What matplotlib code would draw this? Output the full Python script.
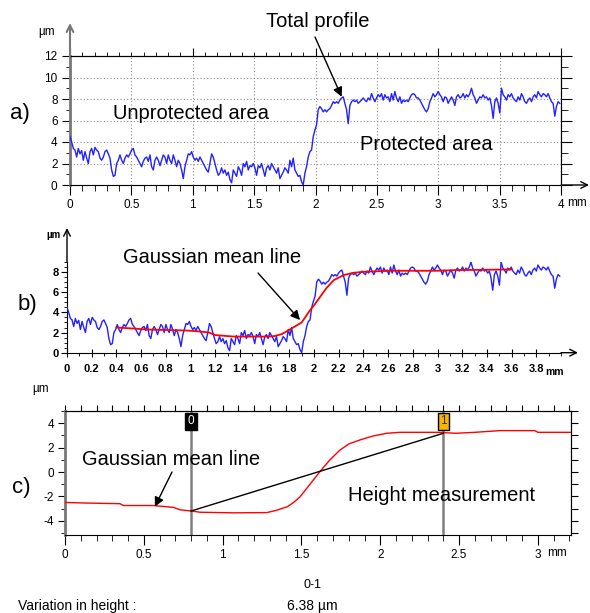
import numpy as np
import matplotlib
matplotlib.use('Agg')
import matplotlib.pyplot as plt
from matplotlib.ticker import MultipleLocator, NullFormatter

plt.rcParams['font.family'] = ['Liberation Sans', 'DejaVu Sans']
plt.rcParams['axes.unicode_minus'] = False

# ---------------- data ----------------
# total profile (µm), evenly spaced
profile_um = [
    4.5, 4.0, 3.4, 3.25, 2.6, 3.4, 2.9, 3.2, 2.3, 3.1, 2.5, 2.0, 3.1, 3.4, 2.8, 3.5, 3.25, 3.1, 2.5, 2.3,
    2.6, 3.1, 3.25, 2.9, 2.5, 1.4, 0.8, 0.9, 2.0, 2.3, 2.8, 2.3, 2.0, 2.5, 2.8, 2.6, 2.9, 3.25, 3.4, 2.8,
    2.6, 2.3, 2.0, 1.7, 2.2, 2.5, 2.6, 2.2, 2.8, 1.7, 1.4, 2.3, 2.6, 2.3, 1.8, 2.3, 2.8, 2.6, 2.0, 2.8,
    2.3, 2.0, 2.8, 2.3, 1.7, 2.3, 2.0, 1.4, 0.6, 1.7, 2.3, 2.9, 2.8, 3.1, 2.6, 2.3, 2.5, 2.2, 2.6, 2.3,
    2.0, 1.7, 1.4, 1.2, 2.0, 2.9, 2.6, 2.0, 1.4, 0.9, 1.1, 1.6, 1.1, 1.4, 0.9, 1.2, 0.5, 0.2, 1.4,
    1.1, 0.8, 1.7, 1.4, 0.9, 2.0, 1.7, 2.2, 1.4, 1.8, 1.7, 2.0, 1.6, 0.9, 1.8, 1.6, 2.0, 1.4, 0.8, 1.6,
    1.8, 1.4, 2.0, 1.7, 1.4, 1.1, 1.6, 0.6, 0.9, 1.2, 1.6, 1.4, 1.1, 2.3, 1.7, 2.5, 1.4, 1.1, 0.8, 0.9,
    0.3, 0.0, 1.1, 1.7, 2.6, 3.1, 3.25, 4.5, 5.1, 5.6, 7.0, 7.3, 7.1, 6.8, 7.0, 6.8, 7.0, 7.1, 7.4, 7.75,
    7.6, 7.75, 7.6, 7.9, 8.1, 8.2, 7.6, 7.0, 5.7, 7.4, 7.75, 7.9, 7.75, 7.9, 7.6, 7.75, 7.9, 8.1, 7.9, 7.75,
    8.1, 7.9, 8.5, 8.1, 7.75, 8.1, 8.4, 8.2, 8.5, 7.9, 8.4, 8.1, 8.2, 7.75, 8.5, 7.9, 8.7, 8.1, 7.75,
    8.2, 7.6, 7.9, 7.75, 7.9, 7.75, 8.1, 8.4, 8.5, 8.4, 8.1, 8.1, 7.9, 7.6, 7.3, 7.0, 6.8, 7.1, 7.75, 8.1,
    8.5, 8.2, 8.4, 8.7, 8.4, 8.2, 7.75, 8.2, 8.1, 7.6, 7.9, 8.2, 7.9, 7.4, 8.2, 8.4, 8.1, 8.2, 8.5, 8.1,
    8.4, 8.2, 8.5, 9.0, 8.4, 8.1, 7.6, 7.9, 8.2, 8.1, 8.4, 8.1, 8.2, 7.9, 8.1, 7.4, 6.2, 7.75, 8.1, 7.6,
    6.7, 9.0, 8.4, 8.2, 7.9, 8.4, 8.2, 8.5, 8.1, 7.9, 7.75, 8.2, 7.9, 8.5, 8.2, 7.75, 7.6, 7.9, 8.1, 7.75,
    8.2, 8.4, 8.1, 8.7, 8.4, 8.2, 8.5, 8.4, 8.2, 8.5, 8.1, 7.75, 7.6, 6.4, 7.3, 7.75, 7.6,
]
profile_end_mm = 3.99

mean_b_x = [0.4, 0.537, 0.646, 0.81, 0.97, 1.08, 1.15, 1.2, 1.35, 1.63, 1.68, 1.74, 1.79, 1.845, 1.9,
            1.967, 2.0, 2.05, 2.1, 2.16, 2.24, 2.32, 2.4, 2.62, 2.84, 3.0, 3.16, 3.6]
mean_b_y = [2.5, 2.4, 2.3, 2.25, 2.2, 2.1, 2.0, 1.75, 1.6, 1.6, 1.65, 1.85, 2.2, 2.6, 3.0,
            4.2, 4.7, 5.55, 6.4, 7.2, 7.7, 7.93, 8.03, 8.13, 8.13, 8.13, 8.2, 8.26]

mean_c_x = [0, 0.148, 0.349, 0.37, 0.56, 0.687, 0.73, 0.80, 0.856, 1.07, 1.28, 1.34, 1.41, 1.45, 1.49,
            1.55, 1.617, 1.68, 1.744, 1.80, 1.87, 1.955, 2.04, 2.125, 2.36, 2.48, 2.6, 2.76, 2.98, 3.0, 3.21]
mean_c_y = [-2.5, -2.55, -2.6, -2.75, -2.75, -2.9, -3.1, -3.2, -3.3, -3.35, -3.33, -3.15, -2.85, -2.5, -2.05,
            -1.07, 0.03, 0.99, 1.8, 2.3, 2.63, 2.96, 3.18, 3.26, 3.26, 3.18, 3.26, 3.4, 3.4, 3.26, 3.26]

cursor_x = [0.8, 2.4]
cursor_y = [-3.2, 3.18]
cursor_labels = ['0', '1']

a_xticks = [0, 0.5, 1, 1.5, 2, 2.5, 3, 3.5, 4]
a_xlabels = ['0', '0.5', '1', '1.5', '2', '2.5', '3', '3.5', '4']
a_yticks = [0, 2, 4, 6, 8, 10, 12]
b_xticks = [0, 0.2, 0.4, 0.6, 0.8, 1, 1.2, 1.4, 1.6, 1.8, 2, 2.2, 2.4, 2.6, 2.8, 3, 3.2, 3.4, 3.6, 3.8]
b_xlabels = ['0', '0.2', '0.4', '0.6', '0.8', '1', '1.2', '1.4', '1.6', '1.8', '2', '2.2', '2.4', '2.6',
             '2.8', '3', '3.2', '3.4', '3.6', '3.8']
b_yticks = [0, 2, 4, 6, 8]
c_xticks = [0, 0.5, 1, 1.5, 2, 2.5, 3]
c_xlabels = ['0', '0.5', '1', '1.5', '2', '2.5', '3']
c_yticks = [-4, -2, 0, 2, 4]

# ---------------- style ----------------
W, H = 590, 613
BLUE = '#2222ff'
RED = '#ff0000'
TICKFS = 8.5
NARROW = ['Liberation Sans Narrow', 'Liberation Sans', 'DejaVu Sans']

fig = plt.figure(figsize=(W / 100, H / 100), dpi=100)


def axes_px(left, top, right, bottom):
    return fig.add_axes([left / W, 1 - bottom / H, (right - left) / W, (bottom - top) / H])


def ftext(px, py, s, **kw):
    fig.text(px / W, 1 - py / H, s, **kw)


def arrow_axes(ax, start, end, color='black', lw=1.0):
    ax.annotate('', xy=end, xytext=start, xycoords='axes fraction', textcoords='axes fraction',
                arrowprops=dict(arrowstyle='->', color=color, lw=lw, mutation_scale=12,
                                shrinkA=0, shrinkB=0), annotation_clip=False)


x_profile = np.linspace(0, profile_end_mm, len(profile_um))

# ================= panel a =================
axA = axes_px(70, 56, 561, 185)
axA.plot(x_profile, profile_um, color=BLUE, lw=1.0, zorder=3)
axA.set_xlim(0, 4)
axA.set_ylim(0, 12)
axA.set_xticks(a_xticks)
axA.set_xticklabels(a_xlabels)
axA.xaxis.set_minor_locator(MultipleLocator(0.1))
axA.set_yticks(a_yticks)
axA.yaxis.set_minor_locator(MultipleLocator(1))
axA.tick_params(axis='x', which='major', direction='out', length=7, pad=3, labelsize=TICKFS)
axA.tick_params(axis='x', which='minor', direction='out', length=4)
axA.tick_params(axis='y', which='major', direction='out', length=6, pad=3, labelsize=TICKFS)
axA.tick_params(axis='y', which='minor', direction='out', length=3)
axA.grid(True, which='major', color='#8c8c8c', linestyle=(0, (1, 2)), lw=0.8)
axA.spines['left'].set_color('#777777')
axA.spines['left'].set_linewidth(2)
secA = axA.secondary_xaxis('top')
secA.xaxis.set_major_locator(MultipleLocator(1))
secA.xaxis.set_minor_locator(MultipleLocator(0.1))
secA.xaxis.set_major_formatter(NullFormatter())
secA.tick_params(which='major', direction='out', length=6)
secA.tick_params(which='minor', direction='out', length=3)
secAy = axA.secondary_yaxis('right')
secAy.yaxis.set_major_locator(MultipleLocator(2))
secAy.yaxis.set_minor_locator(MultipleLocator(1))
secAy.yaxis.set_major_formatter(NullFormatter())
secAy.tick_params(which='major', direction='out', length=8)
secAy.tick_params(which='minor', direction='out', length=5)
arrow_axes(axA, (0, 1), (0, (185 - 23) / 129), color='#777777', lw=1.5)
arrow_axes(axA, (1, 0), ((589 - 70) / 491, 0))
axA.annotate('', xy=(2.213, 8.2), xycoords='data', xytext=(315 / W, 1 - 37 / H),
             textcoords='figure fraction',
             arrowprops=dict(arrowstyle='-|>', color='black', lw=1.0, mutation_scale=14,
                             shrinkA=0, shrinkB=0))

ftext(38, 35, 'µm', fontsize=TICKFS, va='baseline')
ftext(567, 203, 'mm', fontsize=TICKFS, va='center')
ftext(266, 27, 'Total profile', fontsize=14.5, va='baseline')
ftext(10, 119, 'a)', fontsize=16, va='baseline')
ftext(113, 119, 'Unprotected area', fontsize=14.5, va='baseline')
ftext(360, 150, 'Protected area', fontsize=14.5, va='baseline')

# ================= panel b =================
axB = axes_px(67, 262, 561, 352.7)
axB.plot(x_profile, profile_um, color=BLUE, lw=1.0, zorder=3)
axB.plot(mean_b_x, mean_b_y, color=RED, lw=1.3, zorder=4)
axB.set_xlim(0, 4)
axB.set_ylim(0, 9)
for s in ['top', 'right']:
    axB.spines[s].set_visible(False)
axB.set_xticks(b_xticks)
axB.set_xticklabels(b_xlabels, family=NARROW, fontweight='bold', fontsize=8)
axB.xaxis.set_minor_locator(MultipleLocator(0.1))
axB.set_yticks(b_yticks)
axB.set_yticklabels([str(v) for v in b_yticks], family=NARROW, fontweight='bold', fontsize=8)
axB.yaxis.set_minor_locator(MultipleLocator(0.5))
axB.tick_params(axis='x', which='major', direction='inout', length=6, pad=5)
axB.tick_params(axis='x', which='minor', direction='out', length=2)
axB.tick_params(axis='y', which='major', direction='out', length=4, pad=2)
axB.tick_params(axis='y', which='minor', direction='out', length=2)
arrow_axes(axB, (0, 1), (0, (352.7 - 228) / 90.7))
arrow_axes(axB, (1, 0), ((578 - 67) / 494, 0))
axB.annotate('', xy=(1.887, 3.24), xycoords='data', xytext=(258 / W, 1 - 273 / H),
             textcoords='figure fraction',
             arrowprops=dict(arrowstyle='-|>', color='black', lw=1.0, mutation_scale=14,
                             shrinkA=0, shrinkB=0))
ftext(46, 238, 'µm', fontsize=7, family=NARROW, fontweight='bold', va='baseline')
ftext(545, 372, 'mm', fontsize=7.5, family=NARROW, fontweight='bold', va='center')
ftext(18, 310, 'b)', fontsize=16, va='baseline')
ftext(123, 263, 'Gaussian mean line', fontsize=14.5, va='baseline')

# ================= panel c =================
axC = axes_px(65, 411, 571, 535)
axC.plot(mean_c_x, mean_c_y, color=RED, lw=1.0, zorder=3)
axC.plot(cursor_x, cursor_y, color='black', lw=1.0, zorder=4)
for cx in cursor_x:
    axC.axvline(cx, color='#7f7f7f', lw=1.8, zorder=2)
axC.text(cursor_x[0], 4.15, cursor_labels[0], ha='center', va='center', fontsize=8.5, color='white',
         bbox=dict(boxstyle='square,pad=0.2', fc='black', ec='black'), zorder=5)
axC.text(cursor_x[1], 4.15, cursor_labels[1], ha='center', va='center', fontsize=8.5, color='#333333',
         bbox=dict(boxstyle='square,pad=0.2', fc='#f7b500', ec='black', lw=1), zorder=5)
axC.set_xlim(0, 3.21)
axC.set_ylim(-5.17, 5.01)
axC.set_xticks(c_xticks)
axC.set_xticklabels(c_xlabels)
axC.xaxis.set_minor_locator(MultipleLocator(0.1))
axC.set_yticks(c_yticks)
axC.yaxis.set_minor_locator(MultipleLocator(1))
axC.tick_params(axis='x', which='major', direction='out', length=7, pad=3, labelsize=TICKFS)
axC.tick_params(axis='x', which='minor', direction='out', length=4)
axC.tick_params(axis='y', which='major', direction='out', length=5, pad=3, labelsize=TICKFS)
axC.tick_params(axis='y', which='minor', direction='out', length=3)
axC.spines['left'].set_color('#777777')
axC.spines['left'].set_linewidth(2)
secC = axC.secondary_xaxis('top')
secC.xaxis.set_major_locator(MultipleLocator(0.1))
secC.xaxis.set_major_formatter(NullFormatter())
secC.tick_params(which='major', direction='out', length=4)
secCy = axC.secondary_yaxis('right')
secCy.yaxis.set_major_locator(MultipleLocator(1))
secCy.yaxis.set_major_formatter(NullFormatter())
secCy.tick_params(which='major', direction='out', length=5)
axC.annotate('', xy=(0.57, -2.85), xycoords='data', xytext=(172 / W, 1 - 472 / H),
             textcoords='figure fraction',
             arrowprops=dict(arrowstyle='-|>', color='black', lw=1.0, mutation_scale=14,
                             shrinkA=0, shrinkB=0))
ftext(32, 392, 'µm', fontsize=TICKFS, va='baseline')
ftext(547, 553, 'mm', fontsize=TICKFS, va='center')
ftext(12, 493, 'c)', fontsize=16, va='baseline')
ftext(82, 465, 'Gaussian mean line', fontsize=14.5, va='baseline')
ftext(348, 501, 'Height measurement', fontsize=14.5, va='baseline')

ftext(303, 588, f'{cursor_labels[0]}-{cursor_labels[1]}', fontsize=9, va='baseline')
ftext(18, 610, 'Variation in height :', fontsize=10, va='baseline')
ftext(287, 610, f'{cursor_y[1] - cursor_y[0]:.2f} µm', fontsize=10, va='baseline')

fig.savefig('out.png', dpi=100)
